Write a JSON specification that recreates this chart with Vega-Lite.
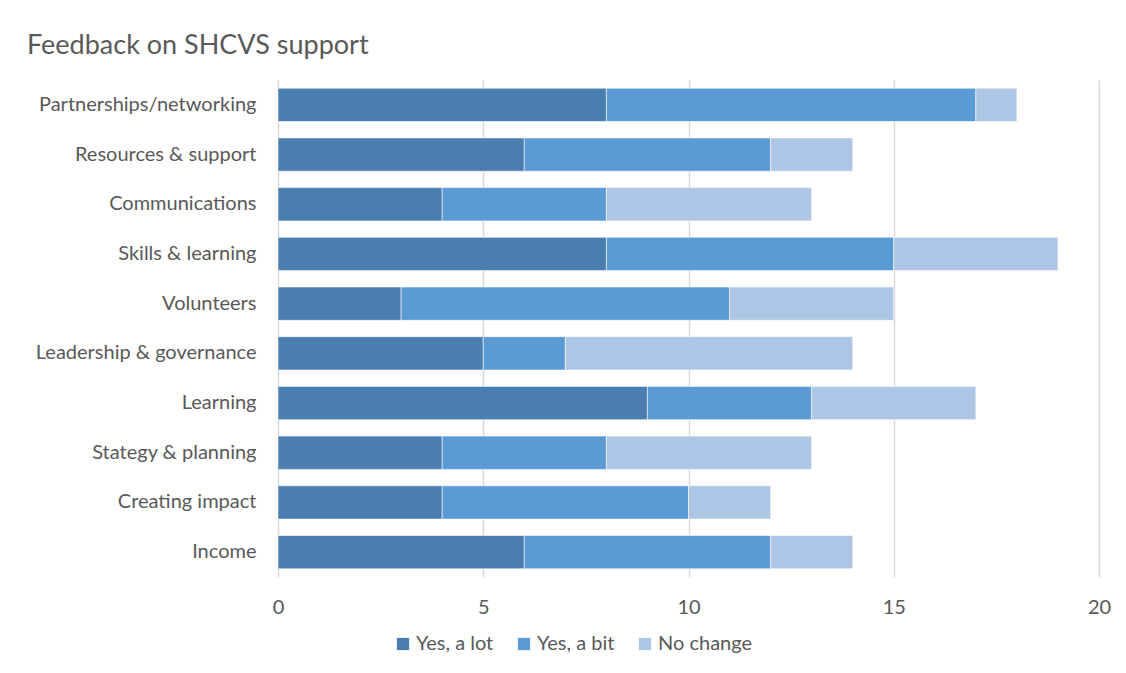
{
  "$schema": "https://vega.github.io/schema/vega-lite/v6.json",
  "autosize": "none",
  "width": 821,
  "height": 497,
  "padding": {"left": 278, "top": 80, "right": 27, "bottom": 96},
  "background": "#ffffff",
  "title": {
    "text": "Feedback on SHCVS support",
    "anchor": "start",
    "frame": "group",
    "dx": -251,
    "offset": 20,
    "font": "Lato",
    "fontSize": 27,
    "fontWeight": "normal",
    "color": "#595959"
  },
  "config": {
    "view": {"stroke": null},
    "font": "Lato"
  },
  "data": {
    "values": [
      {"cat": "Partnerships/networking", "resp": "Yes, a lot", "k": 0, "v": 8},
      {"cat": "Partnerships/networking", "resp": "Yes, a bit", "k": 1, "v": 9},
      {"cat": "Partnerships/networking", "resp": "No change", "k": 2, "v": 1},
      {"cat": "Resources & support", "resp": "Yes, a lot", "k": 0, "v": 6},
      {"cat": "Resources & support", "resp": "Yes, a bit", "k": 1, "v": 6},
      {"cat": "Resources & support", "resp": "No change", "k": 2, "v": 2},
      {"cat": "Communications", "resp": "Yes, a lot", "k": 0, "v": 4},
      {"cat": "Communications", "resp": "Yes, a bit", "k": 1, "v": 4},
      {"cat": "Communications", "resp": "No change", "k": 2, "v": 5},
      {"cat": "Skills & learning", "resp": "Yes, a lot", "k": 0, "v": 8},
      {"cat": "Skills & learning", "resp": "Yes, a bit", "k": 1, "v": 7},
      {"cat": "Skills & learning", "resp": "No change", "k": 2, "v": 4},
      {"cat": "Volunteers", "resp": "Yes, a lot", "k": 0, "v": 3},
      {"cat": "Volunteers", "resp": "Yes, a bit", "k": 1, "v": 8},
      {"cat": "Volunteers", "resp": "No change", "k": 2, "v": 4},
      {"cat": "Leadership & governance", "resp": "Yes, a lot", "k": 0, "v": 5},
      {"cat": "Leadership & governance", "resp": "Yes, a bit", "k": 1, "v": 2},
      {"cat": "Leadership & governance", "resp": "No change", "k": 2, "v": 7},
      {"cat": "Learning", "resp": "Yes, a lot", "k": 0, "v": 9},
      {"cat": "Learning", "resp": "Yes, a bit", "k": 1, "v": 4},
      {"cat": "Learning", "resp": "No change", "k": 2, "v": 4},
      {"cat": "Stategy & planning", "resp": "Yes, a lot", "k": 0, "v": 4},
      {"cat": "Stategy & planning", "resp": "Yes, a bit", "k": 1, "v": 4},
      {"cat": "Stategy & planning", "resp": "No change", "k": 2, "v": 5},
      {"cat": "Creating impact", "resp": "Yes, a lot", "k": 0, "v": 4},
      {"cat": "Creating impact", "resp": "Yes, a bit", "k": 1, "v": 6},
      {"cat": "Creating impact", "resp": "No change", "k": 2, "v": 2},
      {"cat": "Income", "resp": "Yes, a lot", "k": 0, "v": 6},
      {"cat": "Income", "resp": "Yes, a bit", "k": 1, "v": 6},
      {"cat": "Income", "resp": "No change", "k": 2, "v": 2}
    ]
  },
  "mark": {"type": "bar", "stroke": "#ffffff", "strokeWidth": 0.8, "strokeOpacity": 0.7},
  "encoding": {
    "y": {
      "field": "cat",
      "type": "nominal",
      "sort": null,
      "scale": {"paddingInner": 0.33, "paddingOuter": 0.165},
      "axis": {
        "title": null,
        "domain": false,
        "ticks": false,
        "labelPadding": 22,
        "labelFontSize": 20,
        "labelLimit": 300,
        "labelColor": "#595959",
        "labelFont": "Lato"
      }
    },
    "x": {
      "field": "v",
      "type": "quantitative",
      "stack": "zero",
      "scale": {"domain": [0, 20], "nice": false},
      "axis": {
        "title": null,
        "values": [0, 5, 10, 15, 20],
        "domain": false,
        "ticks": false,
        "grid": true,
        "gridColor": "#D9D9D9",
        "gridWidth": 1.5,
        "labelFlush": false,
        "labelPadding": 20,
        "labelFontSize": 20,
        "labelColor": "#595959",
        "labelFont": "Lato"
      }
    },
    "color": {
      "field": "resp",
      "type": "nominal",
      "sort": ["Yes, a lot", "Yes, a bit", "No change"],
      "scale": {
        "domain": ["Yes, a lot", "Yes, a bit", "No change"],
        "range": ["#4A7EB0", "#5B9BD5", "#ADC6E5"]
      },
      "legend": {
        "title": null,
        "orient": "none",
        "legendX": 115,
        "legendY": 554,
        "direction": "horizontal",
        "symbolType": "square",
        "symbolSize": 150,
        "symbolStrokeWidth": 0,
        "labelFontSize": 20,
        "labelColor": "#595959",
        "labelFont": "Lato",
        "labelOffset": 3,
        "columnPadding": 20
      }
    },
    "order": {"field": "k", "type": "quantitative", "sort": "ascending"}
  }
}
